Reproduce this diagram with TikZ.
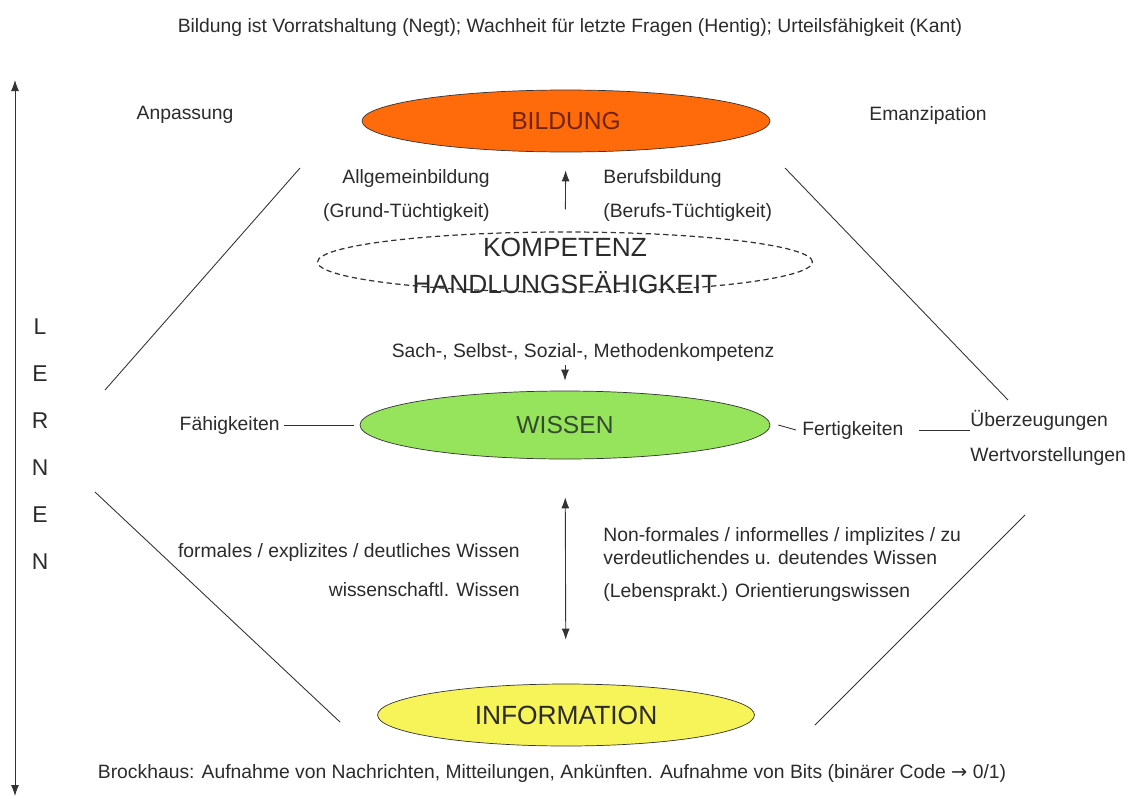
\documentclass[tikz,border=0pt]{standalone}
\usepackage{fontspec}
\setmainfont{Liberation Sans}
\newfontfamily\arrowfont{DejaVu Sans}
\usetikzlibrary{positioning,shapes.geometric,arrows.meta}

\definecolor{bildungfill}{HTML}{FF6A0A}
\definecolor{wissenfill}{HTML}{96E35C}
\definecolor{infofill}{HTML}{F7F45A}
\definecolor{txt}{HTML}{2B2B2B}
\definecolor{bildungtxt}{HTML}{6E2408}
\definecolor{wissentxt}{HTML}{344A30}

\begin{document}
\begin{tikzpicture}[
  x=0.02cm, y=-0.02cm,
  every node/.style={font=\fontsize{11}{13}\selectfont, text=txt, inner sep=0pt},
  oval/.style={draw=black!80, ellipse, inner sep=0pt},
  big/.style={font=\fontsize{14}{16}\selectfont},
  thin line/.style={draw=black!80, line width=0.5pt},
  tip/.tip={Latex[length=2.2mm, width=1.6mm]},
]
\useasboundingbox (0,0) rectangle (1132,798);

% title and sides
\node (titel) at (570,28) {Bildung ist Vorratshaltung (Negt); Wachheit f\"ur letzte Fragen (Hentig); Urteilsf\"ahigkeit (Kant)};
\node (anp) at (185,115) {Anpassung};
\node (eman) at (928,115) {Emanzipation};

% the three levels
\node (bildung) [oval, fill=bildungfill, minimum width=8.16cm, minimum height=1.24cm, big, text=bildungtxt] at (566,121) {BILDUNG};
\node (wissen) [oval, fill=wissenfill, minimum width=8.2cm, minimum height=1.36cm, big, text=wissentxt] at (565,425) {WISSEN};
\node (info) [oval, fill=infofill, minimum width=7.54cm, minimum height=1.24cm, font=\fontsize{15}{17}\selectfont] at (566,715) {INFORMATION};

\node (komp) [oval, dash pattern=on 3pt off 2pt, line width=0.7pt, minimum width=9.9cm, minimum height=1.2cm, fill=none] at (565,262) {};
\node (komp1) [font=\fontsize{15}{17}\selectfont] at (565,247) {KOMPETENZ};
\node (komp2) [font=\fontsize{15}{17}\selectfont] at (565,283) {HANDLUNGSF\"AHIGKEIT};

\node (allg) [anchor=east] at (490,178) {Allgemeinbildung};
\node (grund) [anchor=east] at (490,212) {(Grund-T\"uchtigkeit)};
\node (beruf) [anchor=west] at (603,178) {Berufsbildung};
\node (berufs) [anchor=west] at (603,212) {(Berufs-T\"uchtigkeit)};

\node (sach) at (583,352) {Sach-, Selbst-, Sozial-, Methodenkompetenz};

\node (faehig) [anchor=east] at (280,425) {F\"ahigkeiten};
\node (fertig) [anchor=west] at (802,430) {Fertigkeiten};
\node (ueber) [anchor=west] at (970,420) {\"Uberzeugungen};
\node (wert) [anchor=west] at (970,456) {Wertvorstellungen};

\node (formal) [anchor=east] at (520,552) {formales / explizites / deutliches Wissen};
\node (wiss) [anchor=east] at (520,590) {wissenschaftl. Wissen};
\node (nonf) [anchor=west, align=left] at (603,546) {Non-formales / informelles / implizites / zu\\verdeutlichendes u. deutendes Wissen};
\node (orient) [anchor=west] at (603,592) {(Lebensprakt.) Orientierungswissen};

\node (brock) at (552,773) {Brockhaus: Aufnahme von Nachrichten, Mitteilungen, Ank\"unften. Aufnahme von Bits (bin\"arer Code {\arrowfont →} 0/1)};

% LERNEN
\foreach \ch [count=\i] in {L,E,R,N,E,N}
  \node (lern\i) [font=\fontsize{13}{15}\selectfont] at (40,280+47*\i) {\ch};
\coordinate (ltop) at (15,80);
\coordinate (lbot) at (15,796);
\draw[thin line, tip-tip] (ltop) -- (lbot);

% arrows
\draw[thin line, -tip, shorten <=0.44cm, shorten >=0.36cm] (komp) -- (bildung);
\draw[thin line, -tip, shorten <=0.08cm, shorten >=0.2cm] (sach.south -| wissen) -- (wissen);
\draw[thin line, tip-tip, shorten <=0.76cm, shorten >=0.88cm] (wissen) -- (info);

% side links
\draw[thin line] ([xshift=2pt]faehig.east) -- ([xshift=-3pt]wissen.west);
\draw[thin line] ([xshift=0.16cm]wissen.east) -- ([xshift=-0.12cm]fertig.west);
\draw[thin line] ([xshift=0.3cm]fertig.east) -- (fertig.east -| ueber.west);

% the hexagon
\draw[thin line] (300,168) -- (105,390);
\draw[thin line] (785,168) -- (1008,400);
\draw[thin line] (95,492) -- (340,722);
\draw[thin line] (1025,515) -- (815,725);

\end{tikzpicture}
\end{document}
